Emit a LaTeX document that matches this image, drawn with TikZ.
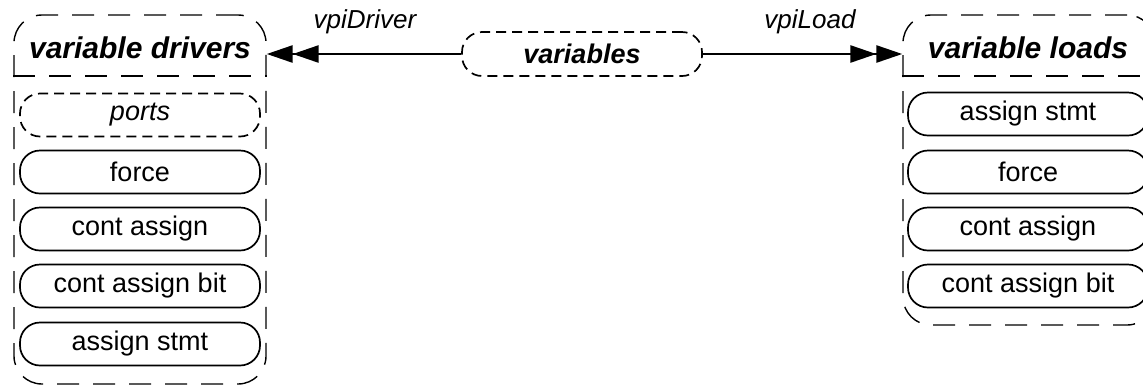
\documentclass[tikz,border=0pt]{standalone}
\usepackage{fontspec}
\setmainfont{Liberation Sans}
\usetikzlibrary{arrows.meta}
\begin{document}
\begin{tikzpicture}[x=1pt,y=-1pt,
  item/.style={draw, line width=1.7pt, rounded corners=20pt, minimum width=240pt, minimum height=43pt, inner sep=0pt, font=\fontsize{27}{30}\selectfont},
  dashitem/.style={item, dash pattern=on 10pt off 6pt},
  grp/.style={draw, line width=1.4pt, rounded corners=28pt, dash pattern=on 22pt off 14pt, minimum width=252pt, inner sep=0pt},
  divider/.style={line width=1.4pt, dash pattern=on 22pt off 14pt},
  grptitle/.style={font=\fontsize{30}{33}\selectfont\bfseries\itshape, inner sep=0pt},
  lab/.style={font=\fontsize{26}{30}\selectfont\itshape, inner sep=0pt},
  dbl/.style={line width=2.6pt, -{Triangle[length=26pt,width=17pt]Triangle[length=26pt,width=17pt]}}]
\useasboundingbox (0,0) rectangle (1143,384);
\clip (0,0) rectangle (1143,384);
\coordinate (divy) at (0,76);
% left group
\node[grp, minimum height=369pt] (drvgrp) at (140,199.5) {};
\draw[divider] (drvgrp.west |- divy) -- (drvgrp.east |- divy);
\node[grptitle] (drvtitle) at (140,48) {variable drivers};
\node[dashitem, font=\fontsize{27}{30}\selectfont\itshape] (dports) at (140,115) {ports};
\node[item] (dforce) at (140,172) {force};
\node[item] (dca) at (140,229) {cont assign};
\node[item] (dcab) at (140,286) {cont assign bit};
\node[item] (dstmt) at (140,344) {assign stmt};
% right group
\node[grp, minimum height=310pt] (ldgrp) at (1029,170) {};
\draw[divider] (ldgrp.west |- divy) -- (ldgrp.east |- divy);
\node[grptitle] (ldtitle) at (1028,48) {variable loads};
\node[item] (lstmt) at (1028,114) {assign stmt};
\node[item] (lforce) at (1028,172) {force};
\node[item] (lca) at (1028,229) {cont assign};
\node[item] (lcab) at (1028,286) {cont assign bit};
% center
\node[dashitem, minimum height=44pt, rounded corners=20pt, font=\fontsize{27}{30}\selectfont\bfseries\itshape] (vars) at (582,54) {variables};
\draw[dbl] (vars.west) -- (vars.west -| drvgrp.east);
\draw[dbl] (vars.east) -- (vars.east -| ldgrp.west);
\node[lab] (ldrv) at (365,22) {vpiDriver};
\node[lab] (lload) at (810,22) {vpiLoad};
\end{tikzpicture}
\end{document}
